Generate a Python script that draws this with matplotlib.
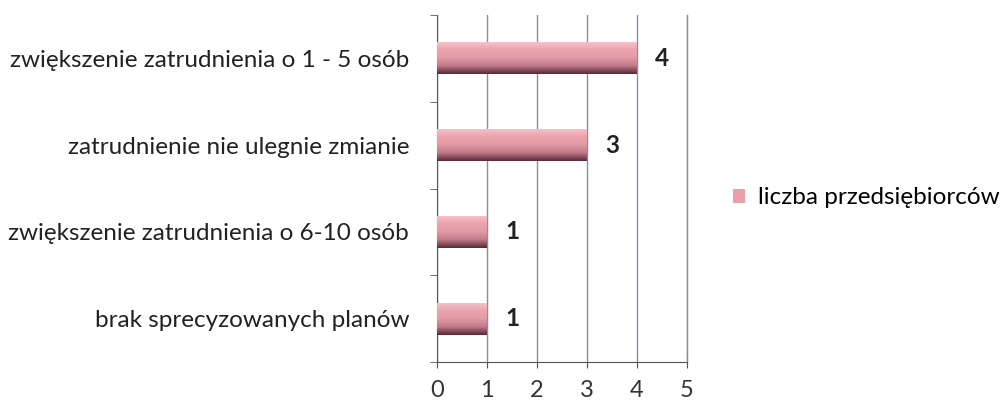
import matplotlib
matplotlib.use("Agg")
import matplotlib.pyplot as plt
import numpy as np
from matplotlib.colors import LinearSegmentedColormap
from matplotlib.patches import Patch

categories = ["zwiększenie zatrudnienia o 1 - 5 osób",
              "zatrudnienie nie ulegnie zmianie",
              "zwiększenie zatrudnienia o 6-10 osób",
              "brak sprecyzowanych planów"]
values = [4, 3, 1, 1]
series_name = "liczba przedsiębiorców"
xticks = [0, 1, 2, 3, 4, 5]

plt.rcParams['font.family'] = ['Lato', 'DejaVu Sans']

fig = plt.figure(figsize=(10.03, 4.04), dpi=100)
ax = fig.add_axes([437/1003, 1-362/404, 250/1003, 347/404])

n = len(categories)
ypos = np.arange(n)[::-1]
h = 0.37
cmap = LinearSegmentedColormap.from_list("cyl", ["#f6c4cc", "#eba4ae", "#e29aa6", "#c07a88", "#5a2a38"])
grad = np.linspace(0, 1, 64).reshape(-1, 1)
bars = ax.barh(ypos, values, height=h, color="#e8a0aa", edgecolor="none", zorder=3)
for b in bars:
    x0, y0 = b.get_x(), b.get_y()
    w, hh = b.get_width(), b.get_height()
    im = ax.imshow(grad, aspect="auto", cmap=cmap, extent=[x0, x0 + w, y0, y0 + hh],
                   zorder=4, origin="upper")
    im.set_clip_path(b)
for y, v in zip(ypos, values):
    ax.text(v + 0.36, y, str(v), va="center", ha="left", fontsize=17.5, fontweight="bold", color="#222222")

ax.set_xlim(0, 5)
ax.set_ylim(-0.5, n - 0.5)
ax.set_xticks(xticks)
ax.set_xticklabels([str(t) for t in xticks], fontsize=17, color="#333333")
ax.set_yticks(ypos)
ax.set_yticklabels(categories, fontsize=17.5, color="#222222")
ax.tick_params(axis="y", length=0, pad=20)
ax.set_yticks(np.arange(n + 1) - 0.5, minor=True)
ax.tick_params(axis="y", which="minor", length=5, color="#555555")
ax.tick_params(axis="x", length=4, color="#555555", pad=9)
ax.grid(axis="x", color="#7f93a8", linewidth=1.0, zorder=0)
ax.axvline(5, color="#7f93a8", linewidth=1.0, zorder=0, clip_on=False)
for s in ["top", "right"]:
    ax.spines[s].set_visible(False)
ax.spines["left"].set_color("#555555")
ax.spines["bottom"].set_color("#555555")

fig.legend(handles=[Patch(facecolor="#e8a0aa", edgecolor="none")], labels=[series_name],
           loc="center left", bbox_to_anchor=(726/1003, 1-198/404), frameon=False,
           fontsize=17.5, handlelength=0.5, handleheight=0.5, handletextpad=0.5,
           borderaxespad=0, borderpad=0.3)

fig.savefig("out.png", dpi=100, facecolor="white")
